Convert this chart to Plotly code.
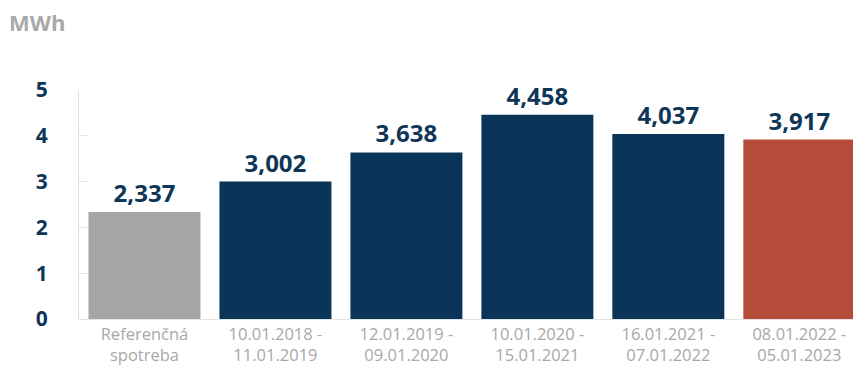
import plotly.graph_objects as go

# Consumption per period (MWh)
categories = [
    "Referenčná<br>spotreba",
    "10.01.2018 -<br>11.01.2019",
    "12.01.2019 -<br>09.01.2020",
    "10.01.2020 -<br>15.01.2021",
    "16.01.2021 -<br>07.01.2022",
    "08.01.2022 -<br>05.01.2023",
]
values = [2.337, 3.002, 3.638, 4.458, 4.037, 3.917]
value_labels = ["2,337", "3,002", "3,638", "4,458", "4,037", "3,917"]
bar_colors = ["#A3A5A6", "#0B3558", "#0B3558", "#0B3558", "#0B3558", "#B54C39"]
y_ticks = [0, 1, 2, 3, 4, 5]

navy = "#0F3557"
grey_text = "#A8A8A8"
axis_grey = "#E3E3E3"

fig = go.Figure(
    go.Bar(
        x=list(range(len(categories))),
        y=values,
        marker=dict(color=bar_colors, line=dict(width=0)),
        text=value_labels,
        textposition="outside",
        textfont=dict(family="Open Sans", size=24, color=navy, weight="bold"),
        cliponaxis=False,
        width=0.855,
    )
)

fig.update_layout(
    width=853,
    height=367,
    margin=dict(l=79, r=0, t=90, b=48),
    plot_bgcolor="white",
    paper_bgcolor="white",
    showlegend=False,
    xaxis=dict(
        range=[-0.5, 5.41],
        tickmode="array",
        tickvals=list(range(len(categories))),
        ticktext=categories,
        tickfont=dict(family="Open Sans", size=16.5, color=grey_text),
        ticklabelstandoff=0,
        automargin=False,
        showline=True,
        linecolor=axis_grey,
        linewidth=1,
        ticks="",
        showgrid=False,
        zeroline=False,
        fixedrange=True,
    ),
    yaxis=dict(
        range=[0, 5],
        tickmode="array",
        tickvals=y_ticks,
        ticktext=[str(v) for v in y_ticks],
        tickfont=dict(family="Open Sans", size=21, color=navy, weight="bold"),
        automargin=False,
        showline=True,
        linecolor=axis_grey,
        linewidth=1,
        ticks="inside",
        ticklen=8,
        tickcolor=axis_grey,
        ticklabelstandoff=26,
        showgrid=False,
        zeroline=False,
        fixedrange=True,
    ),
    annotations=[
        dict(
            text="MWh",
            xref="paper",
            yref="paper",
            x=-72 / 774,
            y=1 + 68 / 229,
            xanchor="left",
            yanchor="middle",
            showarrow=False,
            font=dict(family="Open Sans", size=22, color="#A9A9A9", weight="bold"),
        )
    ],
)

fig.write_html("out.html")
